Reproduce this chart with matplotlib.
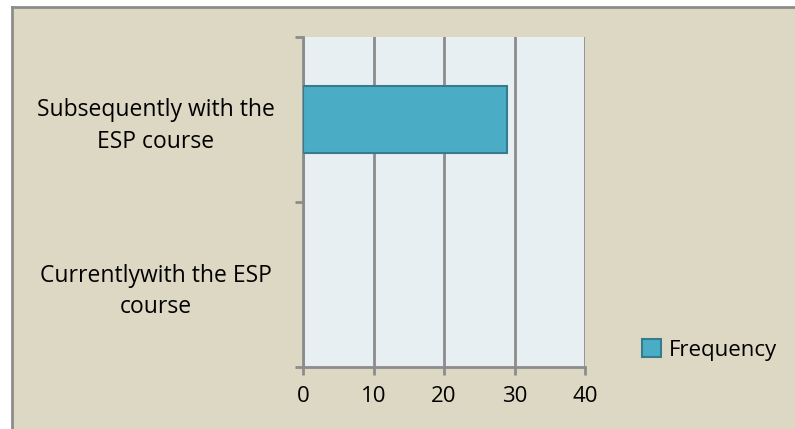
import numpy as np
import matplotlib.pyplot as plt
from matplotlib.patches import Rectangle, Patch

categories = ['Currentlywith the ESP\ncourse', 'Subsequently with the\nESP course']
frequency = [0, 29]
x_ticks = [0, 10, 20, 30, 40]

bg = '#DDD8C3'
plot_bg = '#E8EFF3'
bar_color = '#4BACC6'
bar_edge = '#357C8F'
grid_color = '#8C8C8C'

plt.rcParams['font.family'] = ['Open Sans', 'DejaVu Sans']

fig = plt.figure(figsize=(7.95, 4.29), dpi=100)
fig.patch.set_facecolor('white')
# beige frame with grey left/top border
fig.patches.append(Rectangle((12 / 795, 0), 1, 1 - 7 / 429, transform=fig.transFigure,
                             facecolor=bg, edgecolor='none', zorder=-10))
fig.lines.append(plt.Line2D([12 / 795, 12 / 795], [0, 1 - 7 / 429], transform=fig.transFigure,
                            color='#8C8C8C', lw=2, zorder=-5))
fig.lines.append(plt.Line2D([12 / 795, 1], [1 - 7 / 429, 1 - 7 / 429], transform=fig.transFigure,
                            color='#8C8C8C', lw=2, zorder=-5))

ax = fig.add_axes([303 / 795, 1 - 367 / 429, 282 / 795, 330 / 429])
ax.set_facecolor(plot_bg)

y = np.arange(len(categories))
ax.barh(y, frequency, height=0.4, color=bar_color, edgecolor=bar_edge,
        linewidth=[1.5 if v else 0 for v in frequency], zorder=3)

ax.set_xlim(0, 40)
ax.set_ylim(-0.5, len(categories) - 0.5)
ax.set_xticks(x_ticks)
ax.xaxis.grid(True, color=grid_color, lw=2)
ax.set_axisbelow(True)

ax.set_yticks(y)
ax.set_yticklabels(categories, ha='center', multialignment='center', fontsize=16.5, linespacing=1.4)
ax.set_yticks(np.arange(-0.5, len(categories)), minor=True)
ax.tick_params(axis='y', which='major', length=0, pad=106)
ax.tick_params(axis='y', which='minor', length=6, width=2, color=grid_color)
ax.tick_params(axis='x', length=6, width=2, color=grid_color, labelsize=16, pad=8)

for s in ['top', 'right']:
    ax.spines[s].set_visible(False)
for s in ['left', 'bottom']:
    ax.spines[s].set_color(grid_color)
    ax.spines[s].set_linewidth(2)

handle = Patch(facecolor=bar_color, edgecolor=bar_edge, linewidth=1.5)
fig.legend([handle], ['Frequency'], loc='center left', bbox_to_anchor=(622 / 795, 1 - 350 / 429),
           frameon=False, fontsize=16, handlelength=0.85, handleheight=0.85, handletextpad=0.35)

fig.savefig('out.png', dpi=100, facecolor=fig.get_facecolor())
